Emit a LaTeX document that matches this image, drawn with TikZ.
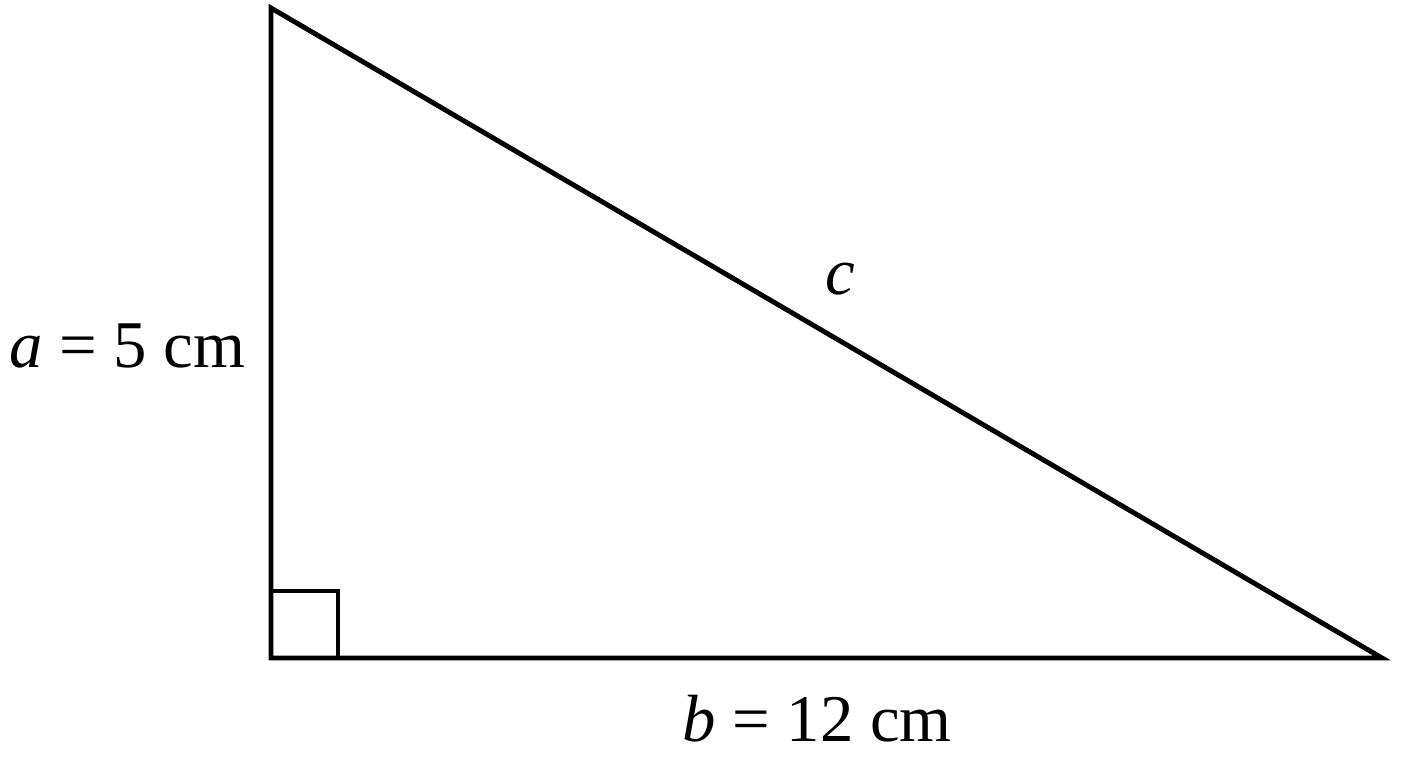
\documentclass[tikz,border=0pt]{standalone}
\usepackage{fontspec}
\setmainfont{Liberation Serif}
\usetikzlibrary{calc}
\begin{document}
\begin{tikzpicture}[line width=1.4pt, lbl/.style={font=\fontsize{19}{23}\selectfont, inner sep=0pt}]
      \useasboundingbox (0,0) rectangle (14.08,7.68);

      % Vertices of the triangle
      \coordinate (top) at (2.71, 7.60);
      \coordinate (corner) at (2.71, 1.10);
      \coordinate (right) at (13.82, 1.10);

      % Draw the triangle
      \draw[line join=miter] (top) -- (corner) -- (right) -- cycle;

      % Right angle mark
      \draw ($(corner)+(0,0.67)$) -- ++(0.67,0) -- ++(0,-0.67);

      % Side labels
      \node[lbl, anchor=base east] (sidea) at (2.48, 4.00) {\textit{a} = 5 cm};
      \node[lbl, anchor=base] (sideb) at (8.17, 0.26) {\textit{b} = 12 cm};
      \node[lbl, anchor=base] (sidec) at (8.40, 4.73) {\textit{c}};
    \end{tikzpicture}
\end{document}
